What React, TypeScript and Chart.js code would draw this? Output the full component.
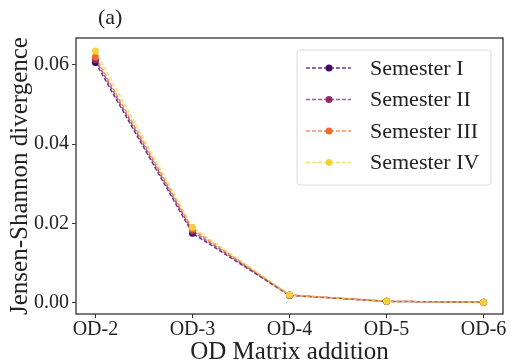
import React, { useEffect, useRef } from "react";
import { Chart, registerables } from "chart.js";

Chart.register(...registerables);

const categories = ["OD-2", "OD-3", "OD-4", "OD-5", "OD-6"];
const seriesNames = ["Semester I", "Semester II", "Semester III", "Semester IV"];
const semesterI = [0.0606, 0.0175, 0.0018, 0.0003, 0.00005];
const semesterII = [0.0613, 0.0180, 0.0019, 0.0003, 0.00005];
const semesterIII = [0.0620, 0.0185, 0.0019, 0.0003, 0.00005];
const semesterIV = [0.0635, 0.0190, 0.0019, 0.0003, 0.00005];
const yTicks = [0, 0.02, 0.04, 0.06];
const colors = ["#420a68", "#932667", "#ef6a2a", "#f6d13f"];
const lineColors = ["rgba(66,10,104,0.8)", "rgba(147,38,103,0.75)", "rgba(239,106,42,0.75)", "rgba(246,209,63,0.75)"];

const FONT = "'Liberation Serif', 'DejaVu Serif', serif";

export default function App() {
  const ref = useRef<HTMLCanvasElement | null>(null);
  useEffect(() => {
    document.body.style.margin = "0";
    const all = [semesterI, semesterII, semesterIII, semesterIV];
    const frame = {
      id: "frame",
      afterDatasetsDraw(chart: any) {
        const { ctx, chartArea: a } = chart;
        ctx.save();
        ctx.strokeStyle = "#333";
        ctx.lineWidth = 1.3;
        ctx.strokeRect(a.left, a.top, a.right - a.left, a.bottom - a.top);
        // panel label
        ctx.fillStyle = "#222";
        ctx.font = `22px ${FONT}`;
        ctx.textBaseline = "middle";
        ctx.textAlign = "left";
        ctx.fillText("(a)", a.left + 22, a.top - 20);
        // legend
        const bx = a.left + 221, by = a.top + 12, bw = 194, bh = 135;
        ctx.fillStyle = "rgba(255,255,255,0.85)";
        ctx.strokeStyle = "#dcdcdc";
        ctx.lineWidth = 1;
        ctx.beginPath();
        (ctx as any).roundRect(bx, by, bw, bh, 3);
        ctx.fill();
        ctx.stroke();
        seriesNames.forEach((name, i) => {
          const y = by + 18 + i * 31.5;
          ctx.strokeStyle = lineColors[i];
          ctx.lineWidth = 1.5;
          ctx.setLineDash([4, 2]);
          ctx.beginPath();
          ctx.moveTo(bx + 9, y);
          ctx.lineTo(bx + 54, y);
          ctx.stroke();
          ctx.setLineDash([]);
          ctx.fillStyle = colors[i];
          ctx.beginPath();
          ctx.arc(bx + 32, y, 3.5, 0, Math.PI * 2);
          ctx.fill();
          ctx.fillStyle = "#222";
          ctx.font = `22px ${FONT}`;
          ctx.textBaseline = "middle";
          ctx.fillText(name, bx + 73, y + 1);
        });
        ctx.restore();
      },
    };
    const chart = new Chart(ref.current!, {
      type: "line",
      data: {
        datasets: all.map((vals, i) => ({
          label: seriesNames[i],
          data: vals.map((v, j) => ({ x: j, y: v })),
          borderColor: lineColors[i],
          backgroundColor: colors[i],
          pointBackgroundColor: colors[i],
          pointBorderColor: colors[i],
          pointRadius: 3.5,
          pointBorderWidth: 0,
          borderWidth: 1.5,
          borderDash: [4, 2],
          fill: false,
          tension: 0,
          order: 4 - i,
        })),
      },
      options: {
        animation: false,
        responsive: false,
        maintainAspectRatio: false,
        layout: { padding: { top: 38, right: 9, left: 0, bottom: 0 } },
        plugins: { legend: { display: false }, tooltip: { enabled: false }, title: { display: false } },
        scales: {
          x: {
            type: "linear",
            min: -0.2,
            max: 4.2,
            afterBuildTicks: (s: any) => {
              s.ticks = categories.map((_, i) => ({ value: i }));
            },
            afterFit: (s: any) => {
              s.height = 49;
            },
            ticks: {
              callback: (v: any) => categories[v] ?? "",
              font: { family: FONT, size: 20 },
              color: "#222",
              padding: 0,
              maxRotation: 0,
              autoSkip: false,
            },
            grid: { drawOnChartArea: false, tickLength: 4, tickColor: "#333", tickWidth: 1 },
            border: { display: false },
            title: {
              display: true,
              text: "OD Matrix addition",
              font: { family: FONT, size: 25 },
              color: "#222",
              padding: { top: -7, bottom: -4 },
            },
          },
          y: {
            type: "linear",
            min: -0.0029,
            max: 0.0668,
            afterBuildTicks: (s: any) => {
              s.ticks = yTicks.map((v) => ({ value: v }));
            },
            afterFit: (s: any) => {
              s.width = 76;
            },
            ticks: {
              callback: (v: any) => Number(v).toFixed(2),
              font: { family: FONT, size: 20 },
              color: "#222",
              padding: 3,
            },
            grid: { drawOnChartArea: false, tickLength: 4, tickColor: "#333", tickWidth: 1 },
            border: { display: false },
            title: {
              display: true,
              text: "Jensen-Shannon divergence",
              font: { family: FONT, size: 25 },
              color: "#222",
              padding: { top: 5, bottom: 0 },
            },
          },
        },
      },
      plugins: [frame],
    } as any);
    return () => chart.destroy();
  }, []);
  return (
    <div style={{ position: "absolute", left: 0, top: 0, width: 512, height: 363 }}>
      <canvas ref={ref} width={512} height={363} style={{ width: 512, height: 363 }} />
    </div>
  );
}
